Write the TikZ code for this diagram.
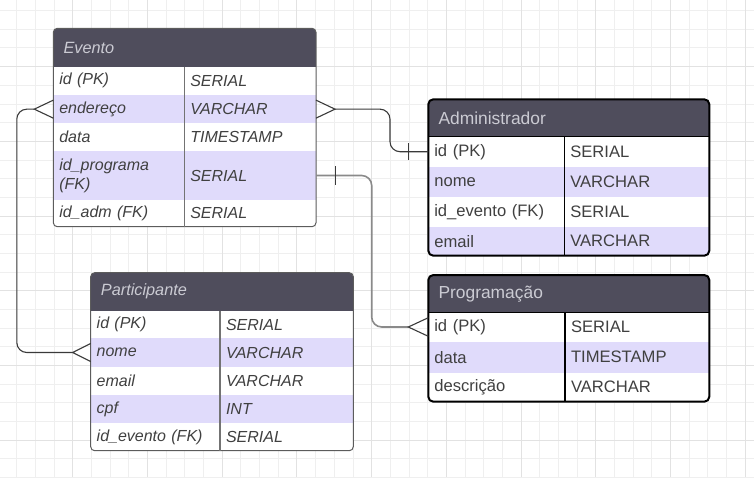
\documentclass[tikz,border=0pt]{standalone}
\usepackage{fontspec}
\setmainfont{Liberation Sans}
\usepackage{xcolor}
\usetikzlibrary{positioning}

\definecolor{gridc}{HTML}{EFEFEF}
\definecolor{gridd}{HTML}{E2E2E2}
\definecolor{hdr}{HTML}{4F4D5C}
\definecolor{hdrtxt}{HTML}{CBCBD3}
\definecolor{lav}{HTML}{E0DBFB}
\definecolor{celltxt}{HTML}{404040}
\definecolor{softline}{HTML}{5C5C5C}
\definecolor{linkdark}{HTML}{3A3A3A}
\definecolor{linkgray}{HTML}{8A8A8A}

\begin{document}
\begin{tikzpicture}[x=1pt, y=-1pt,
  softcell/.style={anchor=west, inner xsep=6pt, inner ysep=0pt, outer sep=0pt, align=left,
    font=\fontsize{16}{19}\selectfont\itshape, text=celltxt},
  hardcell/.style={softcell, font=\fontsize{16.6}{19}\selectfont},
  softhead/.style={anchor=west, inner sep=0pt, font=\fontsize{16.3}{19}\selectfont\itshape, text=hdrtxt},
  hardhead/.style={softhead, font=\fontsize{17.4}{19}\selectfont},
  softedge/.style={draw=softline, line width=1pt},
  hardedge/.style={draw=black, line width=2pt},
  link/.style={draw=linkdark, line width=1.1pt, rounded corners=10pt},
  crow/.style={draw=linkdark, line width=1.1pt},
]
  \useasboundingbox (0,0) rectangle (754,477);

  % ── Background grid ──
  \foreach \i in {0,...,41} {\draw[gridc, line width=0.8pt] ({-2+\i*18.68},0) -- ({-2+\i*18.68},477);}
  \foreach \j in {0,...,25} {\draw[gridc, line width=0.8pt] (0,{10.5+\j*18.68}) -- (754,{10.5+\j*18.68});}
  \foreach \i in {0,4,...,40} {\draw[gridd, line width=0.9pt] ({-2+\i*18.68},0) -- ({-2+\i*18.68},477);}
  \foreach \j in {3,7,...,23} {\draw[gridd, line width=0.9pt] (0,{10.5+\j*18.68}) -- (754,{10.5+\j*18.68});}

  % ── Evento ──
  \begin{scope}
    \clip[rounded corners=4pt] (53.3,28.3) rectangle (316,226.7);
    \fill[hdr] (53.3,28.3) rectangle (316,66.7);
    \foreach \nm/\fld/\typ/\yt/\yb/\col in {
        idpk/{id (PK)}/SERIAL/66.7/95/white,
        endereco/{endereço}/VARCHAR/95/123.3/lav,
        data/{data}/TIMESTAMP/123.3/151/white,
        idprog/{id\_programa\\(FK)}/SERIAL/151/200/lav,
        idadm/{id\_adm (FK)}/SERIAL/200/226.7/white} {
      \fill[\col] (53.3,\yt) rectangle (316,\yb);
      \node[softcell, text width=119pt] (ev-\nm) at (53.3,{(\yt+\yb)/2}) {\fld};
      \node[softcell, text width=119.7pt] (ev-\nm-ty) at (184.3,{(\yt+\yb)/2}) {\typ};
    }
  \end{scope}
  \draw[softedge, rounded corners=4pt] (53.3,28.3) rectangle (316,226.7);
  \draw[softedge, draw=black!55, line width=1.3pt] (184.3,66.7) -- (184.3,226.7);
  \node[softhead] (ev-head) at (63.3,47.5) {Evento};

  % ── Participante ──
  \begin{scope}
    \clip[rounded corners=4pt] (90.7,272.7) rectangle (353.3,450.7);
    \fill[hdr] (90.7,272.7) rectangle (353.3,310.7);
    \foreach \nm/\fld/\typ/\yt/\yb/\col in {
        idpk/{id (PK)}/SERIAL/310.7/338.3/white,
        nome/{nome}/VARCHAR/338.3/366.7/lav,
        email/{email}/VARCHAR/366.7/395/white,
        cpf/{cpf}/INT/395/423.3/lav,
        idev/{id\_evento (FK)}/SERIAL/423.3/450.7/white} {
      \fill[\col] (90.7,\yt) rectangle (353.3,\yb);
      \node[softcell, text width=117.3pt] (pa-\nm) at (90.7,{(\yt+\yb)/2}) {\fld};
      \node[softcell, text width=121.3pt] (pa-\nm-ty) at (220,{(\yt+\yb)/2}) {\typ};
    }
  \end{scope}
  \draw[softedge, rounded corners=4pt] (90.7,272.7) rectangle (353.3,450.7);
  \draw[softedge, draw=black!55, line width=1.3pt] (220,310.7) -- (220,450.7);
  \node[softhead] (pa-head) at (100.7,291.7) {Participante};

  % ── Administrador ──
  \begin{scope}
    \clip[rounded corners=5pt] (428.3,99.3) rectangle (709.3,255.7);
    \fill[hdr] (428.3,99.3) rectangle (709.3,136.7);
    \foreach \nm/\fld/\typ/\yt/\yb/\col in {
        idpk/{id (PK)}/SERIAL/136.7/166.7/white,
        nome/{nome}/VARCHAR/166.7/197.3/lav,
        idev/{id\_evento (FK)}/SERIAL/197.3/226.7/white,
        email/{email}/VARCHAR/226.7/255.7/lav} {
      \fill[\col] (428.3,\yt) rectangle (709.3,\yb);
      \node[hardcell, text width=124pt] (ad-\nm) at (428.3,{(\yt+\yb)/2}) {\fld};
      \node[hardcell, text width=133pt] (ad-\nm-ty) at (564.3,{(\yt+\yb)/2}) {\typ};
    }
  \end{scope}
  \draw[hardedge, line width=1.5pt] (428.3,136.7) -- (709.3,136.7);
  \draw[hardedge, line width=1.5pt] (564.3,136.7) -- (564.3,255.7);
  \draw[hardedge, rounded corners=5pt] (428.3,99.3) rectangle (709.3,255.7);
  \node[hardhead] (ad-head) at (438.3,118) {Administrador};

  % ── Programação ──
  \begin{scope}
    \clip[rounded corners=5pt] (428.3,275) rectangle (709.3,401.7);
    \fill[hdr] (428.3,275) rectangle (709.3,312.3);
    \foreach \nm/\fld/\typ/\yt/\yb/\col in {
        idpk/{id (PK)}/SERIAL/312.3/341.7/white,
        data/{data}/TIMESTAMP/341.7/372.7/lav,
        desc/{descrição}/VARCHAR/372.7/401.7/white} {
      \fill[\col] (428.3,\yt) rectangle (709.3,\yb);
      \node[hardcell, text width=124.7pt] (pr-\nm) at (428.3,{(\yt+\yb)/2}) {\fld};
      \node[hardcell, text width=132.3pt] (pr-\nm-ty) at (565,{(\yt+\yb)/2}) {\typ};
    }
  \end{scope}
  \draw[hardedge, line width=1.5pt] (428.3,312.3) -- (709.3,312.3);
  \draw[hardedge, line width=1.5pt] (565,312.3) -- (565,401.7);
  \draw[hardedge, rounded corners=5pt] (428.3,275) rectangle (709.3,401.7);
  \node[hardhead] (pr-head) at (438.3,294) {Programação};

  % ── Ligações ──
  % Evento -- Participante
  \draw[link] ([xshift=-19pt]ev-endereco.west) -- ++(-17.5pt,0) |- ([xshift=-18pt]pa-nome.west);
  \draw[crow] ([yshift=9pt]ev-endereco.west) -- ([xshift=-19pt]ev-endereco.west) -- ([yshift=-9pt]ev-endereco.west);
  \draw[crow] ([yshift=9pt]pa-nome.west) -- ([xshift=-18pt]pa-nome.west) -- ([yshift=-9pt]pa-nome.west);
  % Evento -- Administrador
  \draw[link] ([xshift=19pt]ev-endereco-ty.east) -- ++(55pt,0) |- (ad-idpk.west);
  \draw[crow] ([yshift=9pt]ev-endereco-ty.east) -- ([xshift=19pt]ev-endereco-ty.east) -- ([yshift=-9pt]ev-endereco-ty.east);
  \draw[crow] ([xshift=-20pt,yshift=8.5pt]ad-idpk.west) -- ([xshift=-20pt,yshift=-8.5pt]ad-idpk.west);
  % Evento -- Programação
  \draw[link, draw=linkgray, line width=1.6pt] (ev-idprog-ty.east) -- ++(55.7pt,0) |- ([xshift=-20pt]pr-idpk.west);
  \draw[crow] ([xshift=19.7pt,yshift=9.3pt]ev-idprog-ty.east) -- ([xshift=19.7pt,yshift=-9.3pt]ev-idprog-ty.east);
  \draw[crow] ([yshift=9.3pt]pr-idpk.west) -- ([xshift=-20pt]pr-idpk.west) -- ([yshift=-9.3pt]pr-idpk.west);
\end{tikzpicture}
\end{document}
